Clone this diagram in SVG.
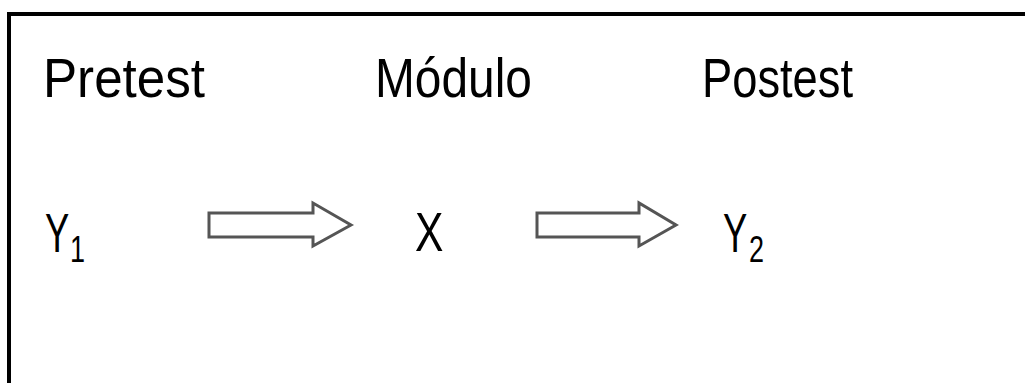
<svg xmlns="http://www.w3.org/2000/svg" width="1025" height="383" viewBox="0 0 1025 383">
<style>
.t{font-family:"Liberation Sans",Arial,sans-serif;font-size:56px;fill:#000}
.s{font-family:"Liberation Sans",Arial,sans-serif;font-size:36px;fill:#000}
.arrow{fill:#fff;stroke:#555;stroke-width:3;stroke-linejoin:miter}
</style>
<rect width="1025" height="383" fill="#fff"/>
<g id="frame">
<path d="M9 383 V14 H1025" fill="none" stroke="#000" stroke-width="4"/>
</g>
<g id="pretest"><text class="t" x="43" y="97" textLength="162" lengthAdjust="spacingAndGlyphs">Pretest</text></g>
<g id="modulo"><text class="t" x="375" y="97" textLength="157" lengthAdjust="spacingAndGlyphs">Módulo</text></g>
<g id="postest"><text class="t" x="702" y="97" textLength="151" lengthAdjust="spacingAndGlyphs">Postest</text></g>
<g id="y1"><text class="t" transform="translate(45 252) scale(0.65 1)">Y</text><text class="s" transform="translate(70 262) scale(0.75 1)">1</text></g>
<g id="x"><text class="t" transform="translate(415 251) scale(0.76 1)">X</text></g>
<g id="y2"><text class="t" transform="translate(723 252) scale(0.65 1)">Y</text><text class="s" transform="translate(749 262) scale(0.75 1)">2</text></g>
<g id="connectors">
<path class="arrow" d="M209 213 H313 V203 L351 225 L313 246 V237 H209 Z"/>
<path class="arrow" d="M537 213 H639 V203 L676 225 L639 246 V237 H537 Z"/>
</g>
</svg>
